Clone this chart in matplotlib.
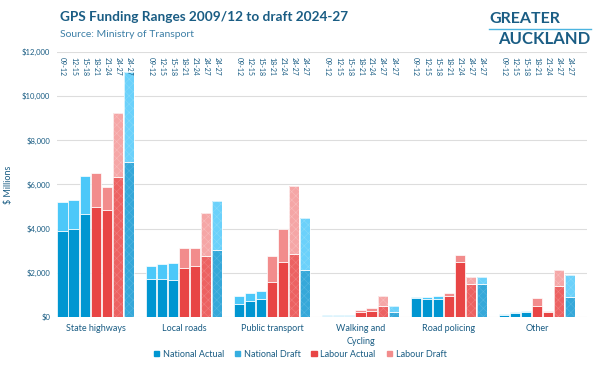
import numpy as np
import matplotlib.pyplot as plt

plt.rcParams['font.family'] = ['Lato', 'DejaVu Sans']
plt.rcParams['hatch.linewidth'] = 0.4

categories = ["State highways", "Local roads", "Public transport", "Walking and\nCycling", "Road policing", "Other"]
periods = ["09-12", "12-15", "15-18", "18-21", "21-24", "24-27", "24-27"]
# which government each period belongs to
owner = ["N", "N", "N", "L", "L", "L", "N"]

# lower / upper end of each funding range ($ millions), per category, per period
low = [
    [3900, 4000, 4650, 5000, 4830, 6350, 7000],
    [1700, 1720, 1660, 2200, 2290, 2780, 3050],
    [600, 720, 840, 1600, 2500, 2840, 2110],
    [40, 40, 50, 210, 270, 480, 240],
    [870, 810, 810, 970, 2500, 1510, 1510],
    [90, 180, 240, 480, 210, 1420, 900],
]
high = [
    [5200, 5300, 6400, 6500, 5900, 9250, 11070],
    [2320, 2380, 2440, 3140, 3140, 4710, 5250],
    [940, 1070, 1180, 2780, 3980, 5940, 4460],
    [80, 80, 90, 330, 420, 970, 480],
    [890, 900, 940, 1090, 2810, 1810, 1810],
    [120, 240, 270, 870, 270, 2110, 1900],
]

nat_actual = "#0096d1"
nat_draft = "#4cc8f9"
lab_actual = "#e84545"
lab_draft = "#f28c8c"
dark = "#1a5d84"

fig = plt.figure(figsize=(6, 3.67), dpi=100)
ax = fig.add_axes([0.095, 0.136, 0.883, 0.723])

for g in range(len(categories)):
    for j in range(len(periods)):
        x = g * 8 + j
        lo = low[g][j]
        hi = high[g][j]
        if j < 5:
            if owner[j] == "N":
                cols = [(nat_actual, None), (nat_draft, None)]
            else:
                cols = [(lab_actual, None), (lab_draft, None)]
            hatch = None
        else:
            # 2024-27 draft ranges are drawn paler with a faint texture
            if owner[j] == "N":
                cols = [("#36a8d9", "#55b6e0"), ("#6bd1fb", "#86daf9")]
            else:
                cols = [("#ec6262", "#f07f7f"), ("#f5a6a6", "#f8bcbc")]
            hatch = "xxxx"
        for (fc, hc), b, h in zip(cols, [0, lo], [lo, hi - lo]):
            if hatch:
                ax.bar(x, h, bottom=b, width=0.92, color=fc, edgecolor=hc,
                       linewidth=0, hatch=hatch, zorder=3)
                ax.bar(x, h, bottom=b, width=0.92, facecolor="none",
                       edgecolor="white", linewidth=0.5, zorder=4)
            else:
                ax.bar(x, h, bottom=b, width=0.92, color=fc, edgecolor="white",
                       linewidth=0.5, zorder=3)
        ax.text(x, 11750, periods[j], rotation=270, ha="center", va="top",
                fontsize=5, color=dark)

ax.set_xlim(-0.5, 47.5)
ax.set_ylim(0, 12000)
ax.set_yticks(np.arange(0, 12001, 2000))
ax.set_yticklabels(["$0"] + ["${:,}".format(v) for v in range(2000, 12001, 2000)],
                   fontsize=5.5, color=dark)
ax.yaxis.grid(True, color="#dddddd", linewidth=0.8, zorder=0)
ax.tick_params(axis="y", length=0, pad=5)
ax.set_xticks([g * 8 + 3 for g in range(len(categories))])
ax.set_xticklabels(categories, fontsize=6.5, color=dark, linespacing=1.5)
ax.tick_params(axis="x", length=0, pad=5)
for s in ax.spines.values():
    s.set_visible(False)
ax.set_ylabel("$ Millions", fontsize=6.5, color=dark, labelpad=6)

fig.text(0.1, 0.955, "GPS Funding Ranges 2009/12 to draft 2024-27", fontsize=9.8,
         fontweight="bold", color=dark, va="center")
fig.text(0.1, 0.907, "Source: Ministry of Transport", fontsize=7.5, color="#3c7fa6", va="center")

# logo
fig.text(0.815, 0.947, "GREATER", fontsize=11.5, fontweight="bold", color=dark, va="center")
fig.text(0.83, 0.893, "AUCKLAND", fontsize=12, fontweight="bold", color=dark, va="center")
fig.add_artist(plt.Line2D([0.815, 0.985], [0.922, 0.922], color="#4cb4e0", linewidth=1))

handles = [plt.Rectangle((0, 0), 1, 1, color=c) for c in [nat_actual, "#35aee0", lab_actual, lab_draft]]
fig.legend(handles, ["National Actual", "National Draft", "Labour Actual", "Labour Draft"],
           loc="center", bbox_to_anchor=(0.5, 0.035), ncol=4, frameon=False,
           fontsize=6.5, handlelength=0.6, handleheight=0.6, handletextpad=0.4,
           columnspacing=1.2, labelcolor=dark)

fig.savefig("out.png", dpi=100)
